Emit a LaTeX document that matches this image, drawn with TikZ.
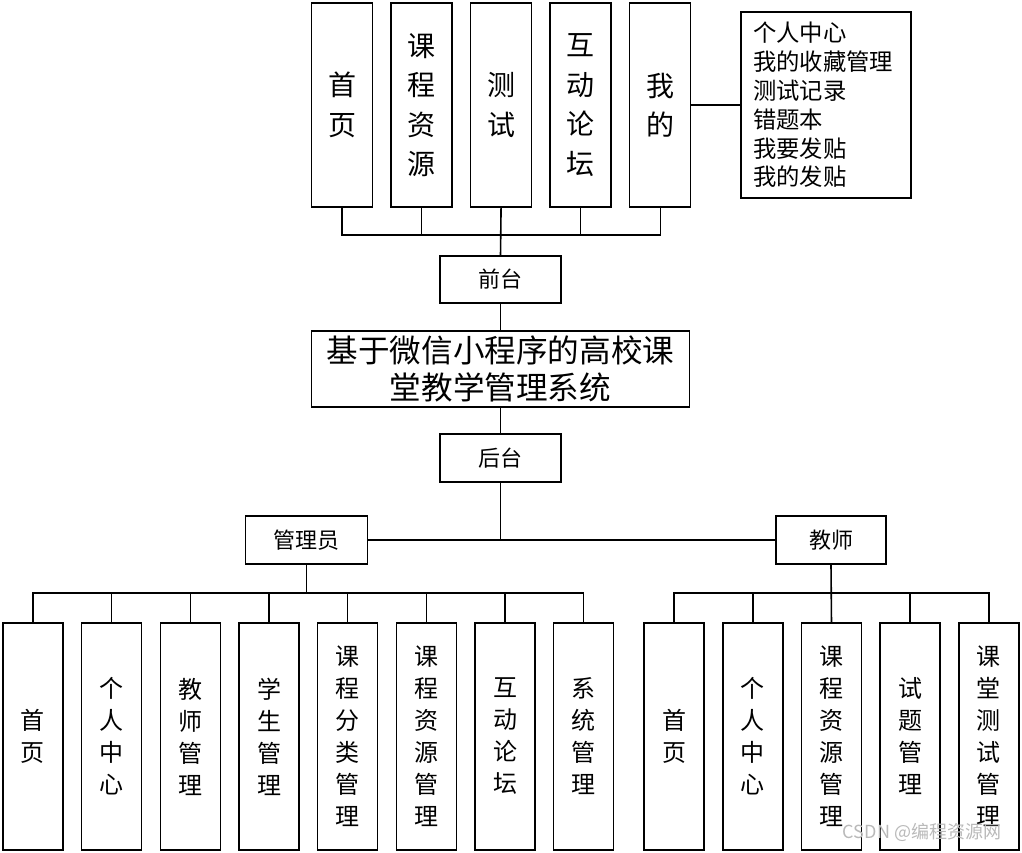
\documentclass[tikz,border=0pt]{standalone}
\usepackage{fontspec}
\usepackage{xcolor}
\usepackage{tikz}
\usetikzlibrary{positioning, calc}
\newfontfamily\cjk{Noto Sans CJK SC}

\begin{document}
\begin{tikzpicture}[x=0.75pt, y=-0.75pt, line width=1.2pt, outer sep=0pt,
    tallbox/.style={draw, rectangle, inner sep=0pt, minimum width=45.75pt, minimum height=153pt, align=center, font=\cjk\fontsize{21}{29.6}\selectfont},
    lowbox/.style={draw, rectangle, inner sep=0pt, minimum width=45pt, minimum height=170.25pt, align=center, font=\cjk\fontsize{18}{24}\selectfont},
    smallbox/.style={draw, rectangle, inner sep=0pt, minimum height=36pt, font=\cjk\fontsize{16.5}{20}\selectfont}]
    \useasboundingbox (0,0) rectangle (1022,853);

    \node (home) [tallbox] at (342,105) {首\\页};
    \node (course) [tallbox, right=13.9pt of home] {课\\程\\资\\源};
    \node (test) [tallbox, right=13.9pt of course] {测\\试};
    \node (forum) [tallbox, right=13.9pt of test] {互\\动\\论\\坛};
    \node (mine) [tallbox, right=13.9pt of forum] {我\\的};
    \node (minelist) [draw, rectangle, anchor=west, inner xsep=9pt, inner ysep=0pt, text width=109.5pt, minimum height=139.5pt, align=left, font=\cjk\fontsize{17.5}{21.6}\selectfont] at (741,105) {个人中心\\我的收藏管理\\测试记录\\错题本\\我要发贴\\我的发贴};

    \node (front) [smallbox, minimum width=90.75pt, minimum height=35.25pt] at (500.5,279.5) {前台};
    \node (system) [draw, rectangle, inner sep=0pt, minimum width=283.5pt, minimum height=57pt, align=center, font=\cjk\fontsize{23.7}{27.75}\selectfont] at (500.5,369) {基于微信小程序的高校课\\堂教学管理系统};
    \node (back) [smallbox, minimum width=90.75pt] at (500.5,458) {后台};

    \node (admin) [smallbox, minimum width=91.5pt] at (306.5,540) {管理员};
    \node (teacher) [smallbox, minimum width=82.5pt] at (831,540) {教师};

    \node (ahome) [lowbox] at (33,736.5) {首\\页};
    \node (aself) [lowbox, right=14pt of ahome] {个\\人\\中\\心};
    \node (ateacher) [lowbox, right=14pt of aself] {教\\师\\管\\理};
    \node (astudent) [lowbox, right=14pt of ateacher] {学\\生\\管\\理};
    \node (acategory) [lowbox, right=14pt of astudent] {课\\程\\分\\类\\管\\理};
    \node (acourse) [lowbox, right=14pt of acategory] {课\\程\\资\\源\\管\\理};
    \node (aforum) [lowbox, right=14pt of acourse] {互\\动\\论\\坛};
    \node (asystem) [lowbox, right=14pt of aforum] {系\\统\\管\\理};

    \node (thome) [lowbox] at (674,736.5) {首\\页};
    \node (tself) [lowbox, right=14.06pt of thome] {个\\人\\中\\心};
    \node (tcourse) [lowbox, right=14.06pt of tself] {课\\程\\资\\源\\管\\理};
    \node (tquestion) [lowbox, right=14.06pt of tcourse] {试\\题\\管\\理};
    \node (tclass) [lowbox, right=14.06pt of tquestion] {课\\堂\\测\\试\\管\\理};

    \node (mark) [text=gray!55, font=\cjk\fontsize{13.5}{16}\selectfont] at (922,832) {CSDN @编程资源网};

    \coordinate (topbus) at (500.5,235);
    \coordinate (adminbus) at (306.5,593);
    \coordinate (teacherbus) at (831,593);

    \draw [line width=0.9pt] (home.south) -- (home.south |- topbus) -- (mine.south |- topbus) -- (mine.south);
    \draw [line width=0.9pt] (course.south) -- (course.south |- topbus) (forum.south) -- (forum.south |- topbus);
    \draw (test.south) -- (front.north);
    \draw [line width=0.9pt] (mine.east) -- (minelist.west);
    \draw (front.south) -- (system.north);
    \draw (system.south) -- (back.north);
    \draw (back.south) -- (back.south |- admin.east);
    \draw (admin.east) -- (teacher.west);

    \draw (admin.south) -- (adminbus);
    \draw (ahome.north) -- (ahome.north |- adminbus) -- (asystem.north |- adminbus) -- (asystem.north);
    \draw (aself.north) -- (aself.north |- adminbus) (ateacher.north) -- (ateacher.north |- adminbus) (astudent.north) -- (astudent.north |- adminbus);
    \draw (acategory.north) -- (acategory.north |- adminbus) (acourse.north) -- (acourse.north |- adminbus) (aforum.north) -- (aforum.north |- adminbus);

    \draw (teacher.south) -- (tcourse.north);
    \draw (thome.north) -- (thome.north |- teacherbus) -- (tclass.north |- teacherbus) -- (tclass.north);
    \draw (tself.north) -- (tself.north |- teacherbus) (tquestion.north) -- (tquestion.north |- teacherbus);
\end{tikzpicture}
\end{document}
